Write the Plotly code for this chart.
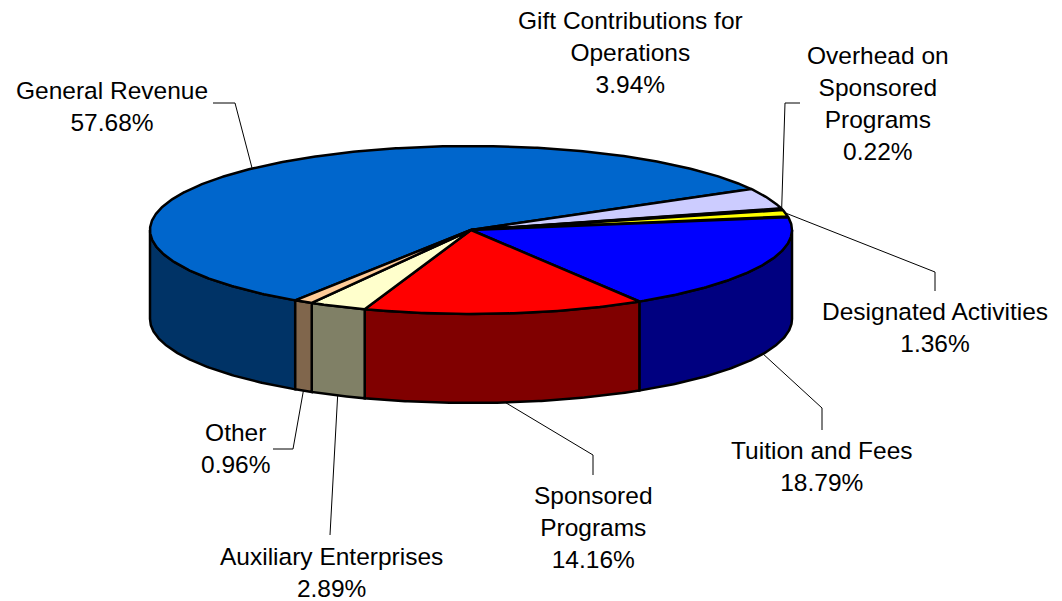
import numpy as np
import plotly.graph_objects as go

# ---------------- data ----------------
categories = [
    "General Revenue",
    "Gift Contributions for Operations",
    "Overhead on Sponsored Programs",
    "Designated Activities",
    "Tuition and Fees",
    "Sponsored Programs",
    "Auxiliary Enterprises",
    "Other",
]
values = [57.68, 3.94, 0.22, 1.36, 18.79, 14.16, 2.89, 0.96]
label_names = [
    "General Revenue",
    "Gift Contributions for<br>Operations",
    "Overhead on<br>Sponsored<br>Programs",
    "Designated Activities",
    "Tuition and Fees",
    "Sponsored<br>Programs",
    "Auxiliary Enterprises",
    "Other",
]

# ---------------- styles / layout ----------------
top_colors = ["#0066CC", "#CCCCFF", "#1A1A1A", "#FFFF00", "#0000FF", "#FF0000", "#FFFFCC", "#FFCC99"]
side_colors = ["#003366", "#666680", "#0D0D0D", "#808000", "#000080", "#800000", "#808066", "#80664C"]

W, H = 1062, 601
OFF = 8                   # default page margin of the html body
CX, CY = 471.0, 230.0     # centre of top ellipse (pixels)
RX, RY = 321.0, 84.0      # radii of the top ellipse
DEPTH = 89.0              # thickness of the pie
START = 236.8             # math angle (deg) where first slice starts, going clockwise
OUTLINE = 2.5
FONT = "Liberation Sans, Arial, sans-serif"
FSIZE = 24.5

# label centre positions and leader-line bend/end points (pixels)
label_pos = [(112, 106), (630, 52), (878, 103), (935, 327), (822, 466), (593, 527), (331, 572), (235, 448)]
leader_pts = [
    [(235, 103), (213, 103)],
    None,
    [(785, 103), (800, 103)],
    [(935, 272), (935, 291)],
    [(822, 408), (822, 430)],
    [(593, 455), (593, 475)],
    [(330, 535)],
    [(293, 449), (273, 449)],
]


def ell(theta_deg, dz=0.0):
    t = np.radians(theta_deg)
    return CX + RX * np.cos(t), CY - RY * np.sin(t) + dz


def arc(a0, a1, dz=0.0):
    n = max(2, int(abs(a1 - a0) * 2) + 2)
    th = np.linspace(a0, a1, n)
    x, y = ell(th, dz)
    return list(x), list(y)


fig = go.Figure()

total = sum(values)
spans = [360.0 * v / total for v in values]
starts = []
a = START
for s in spans:
    starts.append(a)
    a -= s

# --- side faces (front half only: angles in (180,360) mod 360) ---
for i, (s0, sp) in enumerate(zip(starts, spans)):
    hi, lo = s0, s0 - sp
    for f0, f1 in [(-180.0, 0.0), (180.0, 360.0)]:
        a_lo, a_hi = max(lo, f0), min(hi, f1)
        if a_hi - a_lo > 1e-6:
            xt, yt = arc(a_hi, a_lo, 0.0)
            xb, yb = arc(a_lo, a_hi, DEPTH)
            xs = xt + xb + [xt[0]]
            ys = yt + yb + [yt[0]]
            fig.add_trace(go.Scatter(
                x=xs, y=ys, mode="lines", fill="toself",
                fillcolor=side_colors[i],
                line=dict(color="black", width=OUTLINE),
                hoverinfo="skip", showlegend=False,
            ))

# --- top faces ---
for i, (s0, sp) in enumerate(zip(starts, spans)):
    xa, ya = arc(s0, s0 - sp, 0.0)
    xs = [CX] + xa + [CX]
    ys = [CY] + ya + [CY]
    fig.add_trace(go.Scatter(
        x=xs, y=ys, mode="lines", fill="toself",
        fillcolor=top_colors[i],
        line=dict(color="black", width=OUTLINE),
        name=categories[i],
        text=f"{categories[i]}: {values[i]:.2f}%",
        hoverinfo="text", hoveron="fills", showlegend=False,
    ))

# --- leader lines (start at slice mid-angle on visible edge) ---
for i, (s0, sp) in enumerate(zip(starts, spans)):
    pts = leader_pts[i]
    if not pts:
        continue
    mid = s0 - sp / 2.0
    front = np.sin(np.radians(mid)) < 0
    x0, y0 = ell(mid, DEPTH if front else 0.0)
    xs = [float(x0)] + [p[0] for p in pts]
    ys = [float(y0)] + [p[1] for p in pts]
    fig.add_trace(go.Scatter(
        x=xs, y=ys, mode="lines",
        line=dict(color="black", width=1),
        hoverinfo="skip", showlegend=False,
    ))

# --- labels ---
for i, v in enumerate(values):
    lx, ly = label_pos[i]
    fig.add_annotation(
        x=lx, y=ly, xref="x", yref="y",
        text=f"{label_names[i]}<br>{v:.2f}%",
        showarrow=False, align="center",
        xanchor="center", yanchor="middle",
        font=dict(family=FONT, size=FSIZE, color="black"),
    )

fig.update_layout(
    width=W, height=H,
    margin=dict(l=0, r=0, t=0, b=0),
    paper_bgcolor="white", plot_bgcolor="white",
    xaxis=dict(range=[OFF, W + OFF], visible=False, fixedrange=True),
    yaxis=dict(range=[H + OFF, OFF], visible=False, fixedrange=True),
    showlegend=False,
)

fig.write_html("out.html", config={"displayModeBar": False})
